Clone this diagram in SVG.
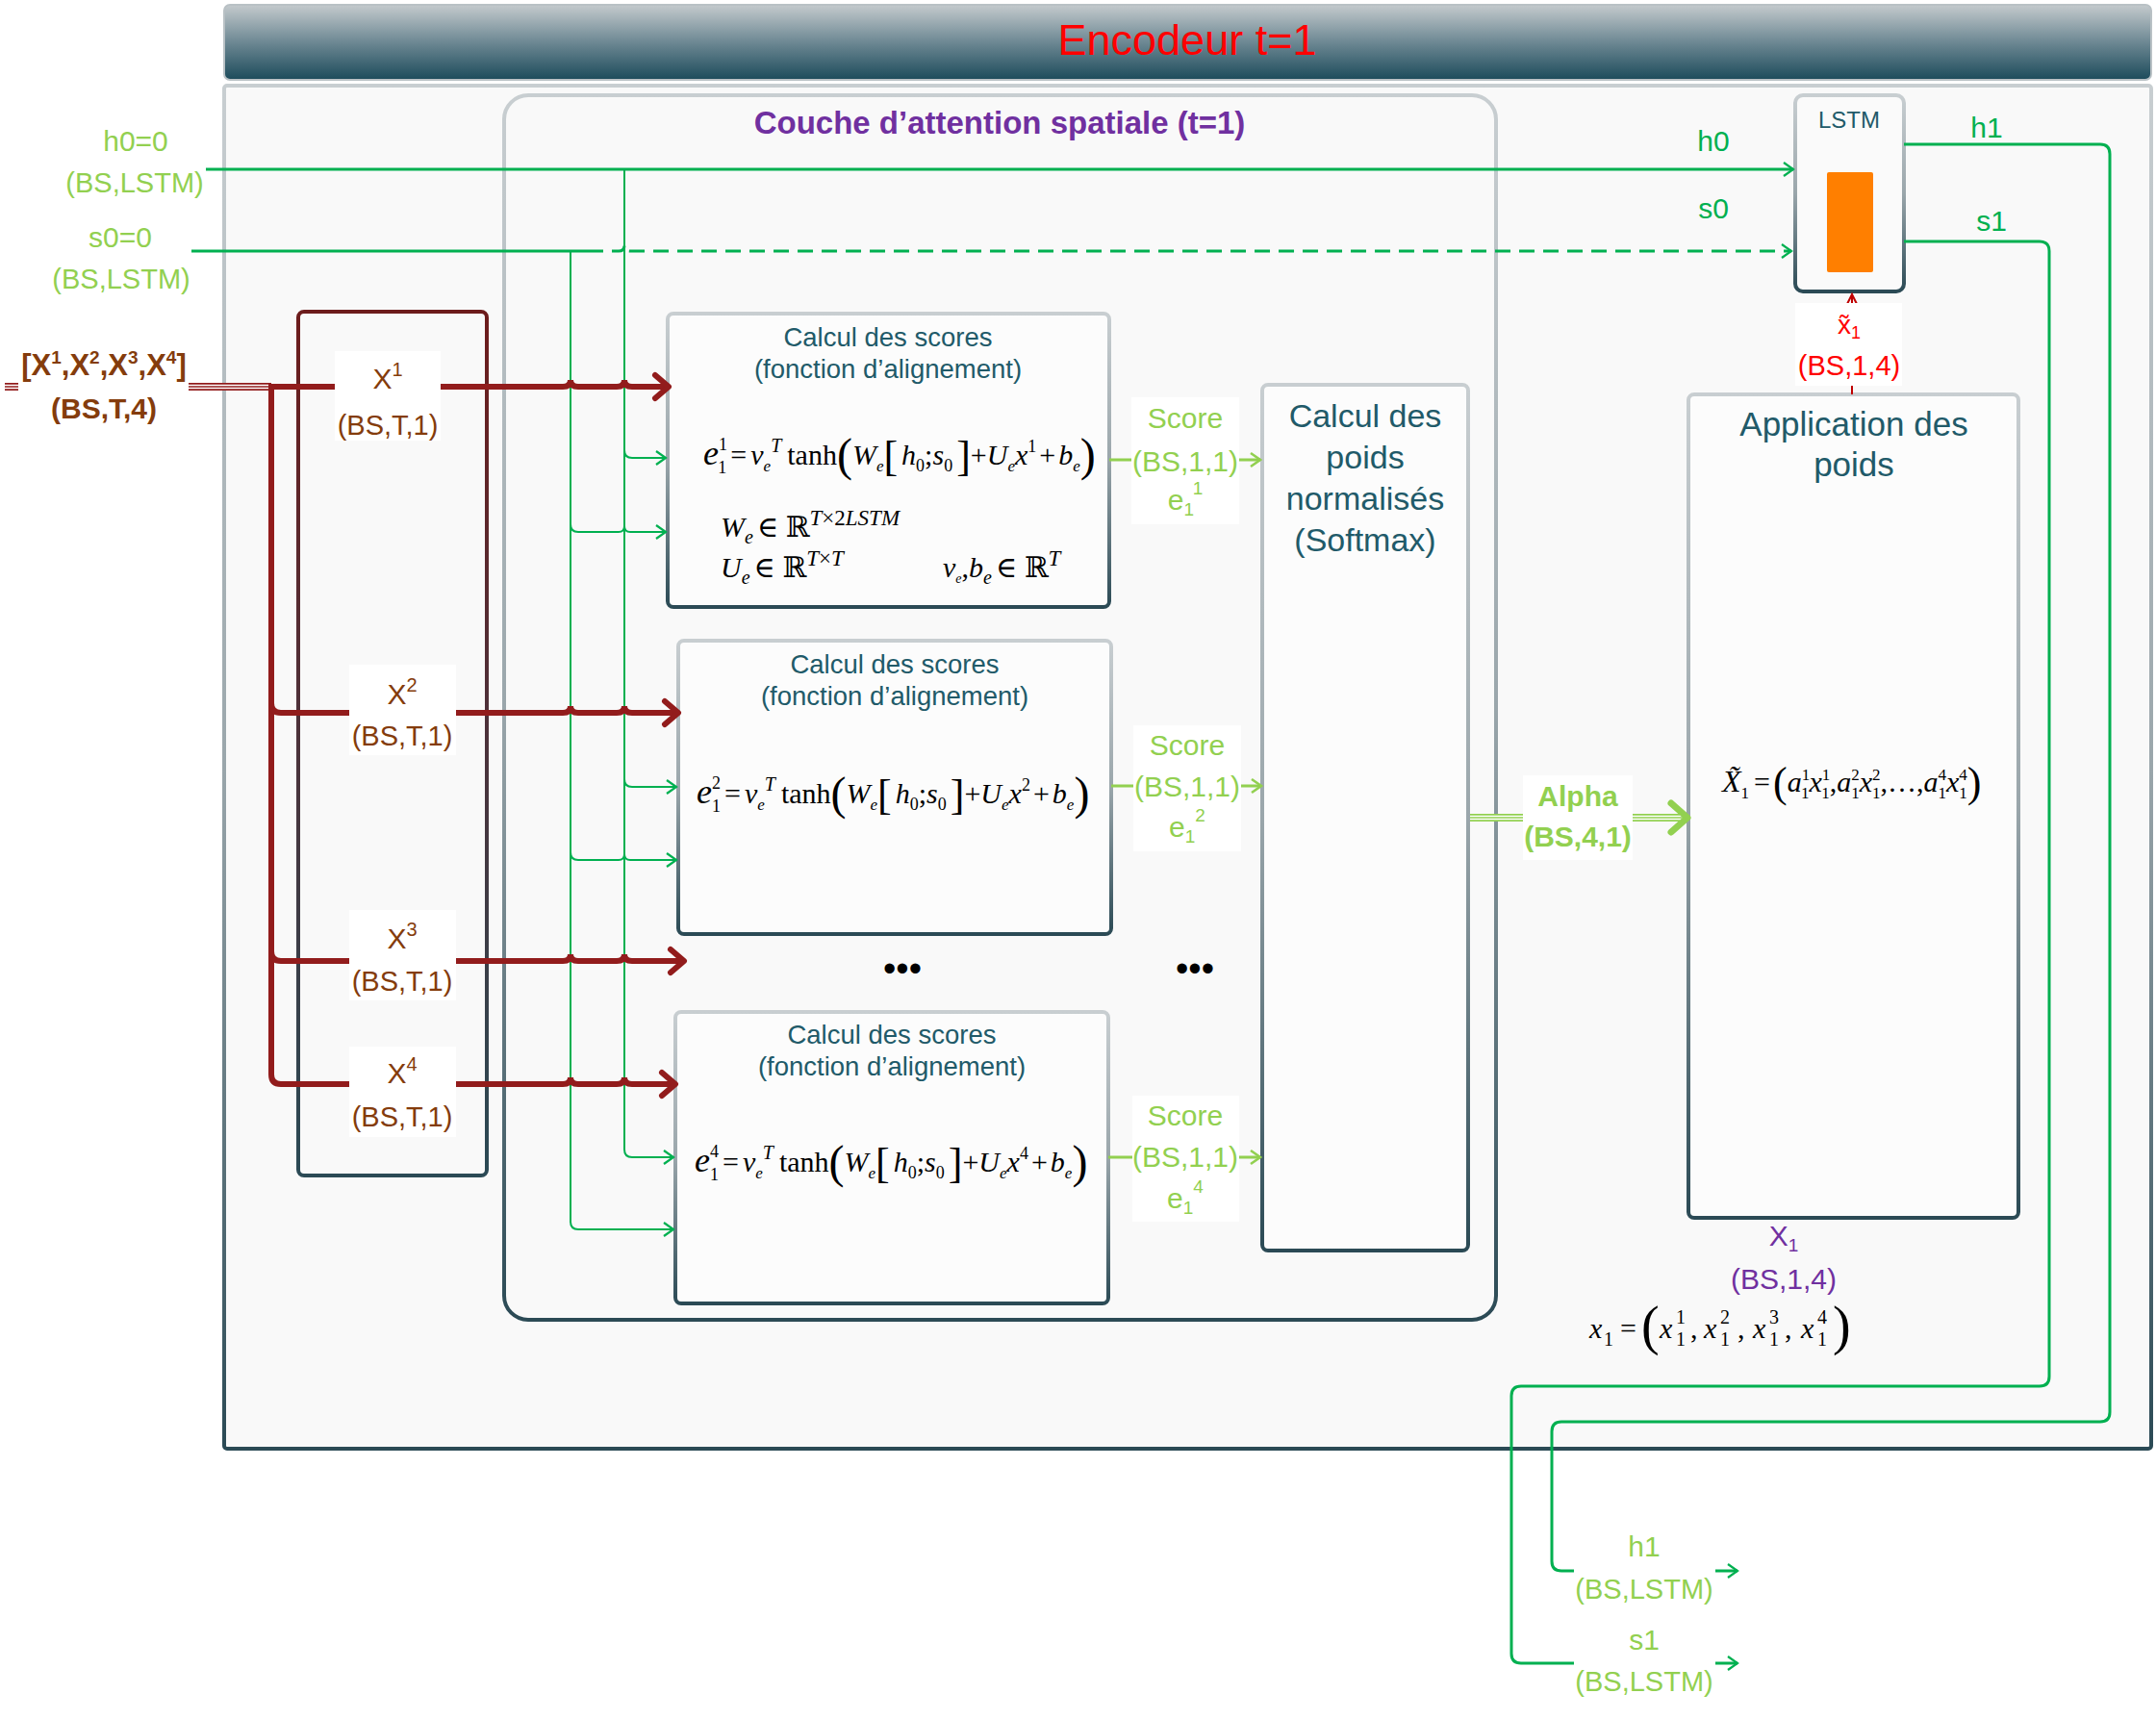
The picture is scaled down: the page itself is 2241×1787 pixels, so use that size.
<svg xmlns="http://www.w3.org/2000/svg" width="2241" height="1787" viewBox="0 0 2241 1787">
<defs>
<style>
text{font-family:"Liberation Sans",Arial,sans-serif}
.math{font-family:"Liberation Serif","DejaVu Serif",serif;font-size:30px;fill:#000}
.it{font-style:italic}
.teal{fill:#215a69}
.lg{fill:#92d050}
.dg{fill:#00b050}
.br{fill:#843c0c}
.box{fill:#fcfcfc;stroke:url(#edge);stroke-width:4}
.gl{fill:none;stroke:#00b050;stroke-width:3}
.gt{fill:none;stroke:#00b050;stroke-width:2}
.bl{fill:none;stroke:#921c1c;stroke-width:6}
.sl{fill:none;stroke:#92d050;stroke-width:3}
.bg{fill:#ffffff}
</style>
<linearGradient id="hdr" x1="0" y1="0" x2="0" y2="1">
<stop offset="0" stop-color="#c4cacd"/><stop offset="0.5" stop-color="#6d8893"/><stop offset="1" stop-color="#1c4b5b"/>
</linearGradient>
<linearGradient id="edge" x1="0" y1="0" x2="0" y2="1">
<stop offset="0" stop-color="#c8ced1"/><stop offset="0.5" stop-color="#9aa6ab"/><stop offset="1" stop-color="#2b4a55"/>
</linearGradient>
<linearGradient id="edgeRed" x1="0" y1="0" x2="0" y2="1">
<stop offset="0" stop-color="#6d1c1c"/><stop offset="0.45" stop-color="#4f3038"/><stop offset="1" stop-color="#2b4a55"/>
</linearGradient>
<marker id="aBrown" viewBox="0 0 20 30" refX="17" refY="15" markerWidth="20" markerHeight="30" orient="auto" markerUnits="userSpaceOnUse" overflow="visible">
<path d="M3,3 L17,15 L3,27" fill="none" stroke="#921c1c" stroke-width="6" stroke-linecap="round" stroke-linejoin="round"/>
</marker>
<marker id="aGreen" viewBox="0 0 12 16" refX="11" refY="8" markerWidth="12" markerHeight="16" orient="auto" markerUnits="userSpaceOnUse" overflow="visible">
<path d="M1,1 L11,8 L1,15" fill="none" stroke="#00b050" stroke-width="2.2"/>
</marker>
<marker id="aLight" viewBox="0 0 12 16" refX="11" refY="8" markerWidth="12" markerHeight="16" orient="auto" markerUnits="userSpaceOnUse" overflow="visible">
<path d="M1,1 L11,8 L1,15" fill="none" stroke="#92d050" stroke-width="2.6"/>
</marker>
<marker id="aAlpha" viewBox="0 0 24 36" refX="21" refY="18" markerWidth="24" markerHeight="36" orient="auto" markerUnits="userSpaceOnUse" overflow="visible">
<path d="M4,3 L21,18 L4,33" fill="none" stroke="#92d050" stroke-width="7" stroke-linecap="round" stroke-linejoin="round"/>
</marker>
<marker id="aRed" viewBox="0 0 12 12" refX="11" refY="6" markerWidth="12" markerHeight="12" orient="auto" markerUnits="userSpaceOnUse" overflow="visible">
<path d="M1,1 L11,6 L1,11" fill="none" stroke="#c00000" stroke-width="2"/>
</marker>
</defs>
<rect x="0" y="0" width="2241" height="1787" fill="#ffffff"/>

<g id="encoder">
<rect x="233" y="89" width="2003" height="1417" rx="3" fill="#f9f9f9" stroke="url(#edge)" stroke-width="4"/>
<rect x="233" y="5" width="2003" height="78" rx="6" fill="url(#hdr)" stroke="#b9c1c5" stroke-width="2"/>
<text x="1234" y="57" text-anchor="middle" font-size="45" fill="#ff0000">Encodeur t=1</text>
</g>

<g id="attention-layer">
<rect x="524" y="99" width="1031" height="1273" rx="25" fill="none" stroke="url(#edge)" stroke-width="4"/>
<text x="1039" y="139" text-anchor="middle" font-size="33" font-weight="bold" fill="#7030a0">Couche d’attention spatiale (t=1)</text>
</g>

<g id="inputs">
<rect x="310" y="324" width="196" height="898" rx="6" fill="none" stroke="url(#edgeRed)" stroke-width="4"/>
</g>

<g id="score1">
<rect class="box" x="694" y="326" width="459" height="305" rx="6"/>
<text class="teal" x="923" y="360" text-anchor="middle" font-size="27.5">Calcul des scores</text>
<text class="teal" x="923" y="393" text-anchor="middle" font-size="27.5">(fonction d’alignement)</text>
<text class="math" x="731" y="483"><tspan class="it" font-size="36">e</tspan><tspan font-size="18" dy="-15">1</tspan><tspan font-size="18" dx="-9" dy="24">1</tspan><tspan dy="-9" dx="4">=</tspan><tspan class="it" dx="4">v</tspan><tspan class="it" font-size="17" dy="7">e</tspan><tspan class="it" font-size="20" dy="-20">T</tspan><tspan dy="13" dx="6">tanh</tspan><tspan font-size="48" dy="6">(</tspan><tspan class="it" dy="-6">W</tspan><tspan class="it" font-size="17" dy="7">e</tspan><tspan font-size="44" dy="-1">[</tspan><tspan class="it" dy="-6" dx="4">h</tspan><tspan font-size="18" dy="7">0</tspan><tspan dy="-7">;</tspan><tspan class="it">s</tspan><tspan font-size="18" dy="7">0</tspan><tspan font-size="44" dy="-1" dx="4">]</tspan><tspan dy="-6">+</tspan><tspan class="it">U</tspan><tspan class="it" font-size="17" dy="7">e</tspan><tspan class="it" dy="-7">x</tspan><tspan font-size="18" dy="-13">1</tspan><tspan dy="13" dx="3">+</tspan><tspan class="it" dx="3">b</tspan><tspan class="it" font-size="17" dy="7">e</tspan><tspan font-size="48" dy="-1">)</tspan></text>
<text class="math" x="749" y="558"><tspan class="it">W</tspan><tspan class="it" font-size="20" dy="7">e</tspan><tspan dy="-7" dx="4">∈ ℝ</tspan><tspan class="it" font-size="23" dy="-12">T</tspan><tspan font-size="23">×2</tspan><tspan class="it" font-size="23">LSTM</tspan></text>
<text class="math" x="749" y="600"><tspan class="it">U</tspan><tspan class="it" font-size="20" dy="7">e</tspan><tspan dy="-7" dx="4">∈ ℝ</tspan><tspan class="it" font-size="23" dy="-12">T</tspan><tspan font-size="23">×</tspan><tspan class="it" font-size="23">T</tspan></text>
<text class="math" x="980" y="600"><tspan class="it">v</tspan><tspan class="it" font-size="14" dy="6">e</tspan><tspan dy="-6">,</tspan><tspan class="it">b</tspan><tspan class="it" font-size="20" dy="7">e</tspan><tspan dy="-7" dx="4">∈ ℝ</tspan><tspan class="it" font-size="23" dy="-12">T</tspan></text>
</g>

<g id="score2">
<rect class="box" x="705" y="666" width="450" height="305" rx="6"/>
<text class="teal" x="930" y="700" text-anchor="middle" font-size="27.5">Calcul des scores</text>
<text class="teal" x="930" y="733" text-anchor="middle" font-size="27.5">(fonction d’alignement)</text>
<text class="math" x="724" y="835"><tspan class="it" font-size="36">e</tspan><tspan font-size="18" dy="-15">2</tspan><tspan font-size="18" dx="-9" dy="24">1</tspan><tspan dy="-9" dx="4">=</tspan><tspan class="it" dx="4">v</tspan><tspan class="it" font-size="17" dy="7">e</tspan><tspan class="it" font-size="20" dy="-20">T</tspan><tspan dy="13" dx="6">tanh</tspan><tspan font-size="48" dy="6">(</tspan><tspan class="it" dy="-6">W</tspan><tspan class="it" font-size="17" dy="7">e</tspan><tspan font-size="44" dy="-1">[</tspan><tspan class="it" dy="-6" dx="4">h</tspan><tspan font-size="18" dy="7">0</tspan><tspan dy="-7">;</tspan><tspan class="it">s</tspan><tspan font-size="18" dy="7">0</tspan><tspan font-size="44" dy="-1" dx="4">]</tspan><tspan dy="-6">+</tspan><tspan class="it">U</tspan><tspan class="it" font-size="17" dy="7">e</tspan><tspan class="it" dy="-7">x</tspan><tspan font-size="18" dy="-13">2</tspan><tspan dy="13" dx="3">+</tspan><tspan class="it" dx="3">b</tspan><tspan class="it" font-size="17" dy="7">e</tspan><tspan font-size="48" dy="-1">)</tspan></text>
</g>

<g id="score4">
<rect class="box" x="702" y="1052" width="450" height="303" rx="6"/>
<text class="teal" x="927" y="1085" text-anchor="middle" font-size="27.5">Calcul des scores</text>
<text class="teal" x="927" y="1118" text-anchor="middle" font-size="27.5">(fonction d’alignement)</text>
<text class="math" x="722" y="1218"><tspan class="it" font-size="36">e</tspan><tspan font-size="18" dy="-15">4</tspan><tspan font-size="18" dx="-9" dy="24">1</tspan><tspan dy="-9" dx="4">=</tspan><tspan class="it" dx="4">v</tspan><tspan class="it" font-size="17" dy="7">e</tspan><tspan class="it" font-size="20" dy="-20">T</tspan><tspan dy="13" dx="6">tanh</tspan><tspan font-size="48" dy="6">(</tspan><tspan class="it" dy="-6">W</tspan><tspan class="it" font-size="17" dy="7">e</tspan><tspan font-size="44" dy="-1">[</tspan><tspan class="it" dy="-6" dx="4">h</tspan><tspan font-size="18" dy="7">0</tspan><tspan dy="-7">;</tspan><tspan class="it">s</tspan><tspan font-size="18" dy="7">0</tspan><tspan font-size="44" dy="-1" dx="4">]</tspan><tspan dy="-6">+</tspan><tspan class="it">U</tspan><tspan class="it" font-size="17" dy="7">e</tspan><tspan class="it" dy="-7">x</tspan><tspan font-size="18" dy="-13">4</tspan><tspan dy="13" dx="3">+</tspan><tspan class="it" dx="3">b</tspan><tspan class="it" font-size="17" dy="7">e</tspan><tspan font-size="48" dy="-1">)</tspan></text>
</g>

<g id="softmax">
<rect class="box" x="1312" y="400" width="214" height="900" rx="6"/>
<text class="teal" x="1419" y="444" text-anchor="middle" font-size="34">Calcul des</text>
<text class="teal" x="1419" y="487" text-anchor="middle" font-size="34">poids</text>
<text class="teal" x="1419" y="530" text-anchor="middle" font-size="34">normalisés</text>
<text class="teal" x="1419" y="573" text-anchor="middle" font-size="34">(Softmax)</text>
</g>

<g id="apply-weights">
<rect class="box" x="1755" y="410" width="343" height="856" rx="6"/>
<text class="teal" x="1927" y="453" text-anchor="middle" font-size="35">Application des</text>
<text class="teal" x="1927" y="495" text-anchor="middle" font-size="35">poids</text>
<text class="math" x="1790" y="823" font-size="28"><tspan class="it" font-size="32">X̃</tspan><tspan font-size="17" dy="7">1</tspan><tspan dy="-7" dx="5">=</tspan><tspan font-size="44" dy="5" dx="3">(</tspan><tspan class="it" dy="-5">a</tspan><tspan font-size="17" dy="-12">1</tspan><tspan font-size="17" dx="-8.5" dy="19">1</tspan><tspan class="it" dy="-7">x</tspan><tspan font-size="17" dy="-12">1</tspan><tspan font-size="17" dx="-8.5" dy="19">1</tspan><tspan dy="-7">,</tspan><tspan class="it">a</tspan><tspan font-size="17" dy="-12">2</tspan><tspan font-size="17" dx="-8.5" dy="19">1</tspan><tspan class="it" dy="-7">x</tspan><tspan font-size="17" dy="-12">2</tspan><tspan font-size="17" dx="-8.5" dy="19">1</tspan><tspan dy="-7">,…,</tspan><tspan class="it">a</tspan><tspan font-size="17" dy="-12">4</tspan><tspan font-size="17" dx="-8.5" dy="19">1</tspan><tspan class="it" dy="-7">x</tspan><tspan font-size="17" dy="-12">4</tspan><tspan font-size="17" dx="-8.5" dy="19">1</tspan><tspan font-size="44" dy="-2">)</tspan></text>
</g>

<g id="lstm">
<rect x="1866" y="99" width="113" height="204" rx="8" fill="#fafafa" stroke="url(#edge)" stroke-width="4"/>
<text class="teal" x="1922" y="133" text-anchor="middle" font-size="24">LSTM</text>
<rect x="1899" y="179" width="48" height="104" rx="2" fill="#ff7f00"/>
</g>

<g id="connectors">
<path class="gl" d="M214,176 H1864" marker-end="url(#aGreen)"/>
<path class="gl" d="M199,261 H611"/>
<path class="gl" d="M611,261 H643 Q649,261 649,255 Q649,261 655,261 H1862" stroke-dasharray="16 9" marker-end="url(#aGreen)"/>
<path class="gt" d="M649,176 V1195 Q649,1203 657,1203 H700" marker-end="url(#aGreen)"/>
<path class="gt" d="M593,261 V1270 Q593,1278 601,1278 H700" marker-end="url(#aGreen)"/>
<path class="gt" d="M649,468 Q649,476 657,476 H692" marker-end="url(#aGreen)"/>
<path class="gt" d="M593,545 Q593,553 601,553 H643 Q649,553 649,547 Q649,553 655,553 H692" marker-end="url(#aGreen)"/>
<path class="gt" d="M649,810 Q649,818 657,818 H703" marker-end="url(#aGreen)"/>
<path class="gt" d="M593,886 Q593,894 601,894 H643 Q649,894 649,888 Q649,894 655,894 H703" marker-end="url(#aGreen)"/>

<path d="M5,402 H282" fill="none" stroke="#921c1c" stroke-width="8"/>
<path d="M5,402 H282" fill="none" stroke="#ffffff" stroke-width="4.6"/>
<path d="M5,402 H282" fill="none" stroke="#921c1c" stroke-width="1.6"/>
<path class="bl" d="M282,399 V1117 Q282,1127 292,1127 H585 Q593,1127 593,1120 Q593,1127 601,1127 H641 Q649,1127 649,1120 Q649,1127 657,1127 H702" marker-end="url(#aBrown)"/>
<path class="bl" d="M282,402 H585 Q593,402 593,395 Q593,402 601,402 H641 Q649,402 649,395 Q649,402 657,402 H695" marker-end="url(#aBrown)"/>
<path class="bl" d="M282,731 Q282,741 292,741 H585 Q593,741 593,734 Q593,741 601,741 H641 Q649,741 649,734 Q649,741 657,741 H705" marker-end="url(#aBrown)"/>
<path class="bl" d="M282,989 Q282,999 292,999 H585 Q593,999 593,992 Q593,999 601,999 H641 Q649,999 649,992 Q649,999 657,999 H711" marker-end="url(#aBrown)"/>

<path class="sl" d="M1153,478 H1310" marker-end="url(#aLight)"/>
<path class="sl" d="M1155,817 H1311" marker-end="url(#aLight)"/>
<path class="sl" d="M1152,1203 H1310" marker-end="url(#aLight)"/>

<path d="M1528,850 H1746" fill="none" stroke="#92d050" stroke-width="8"/>
<path d="M1528,850 H1746" fill="none" stroke="#ffffff" stroke-width="4.6"/>
<path d="M1528,850 H1754" fill="none" stroke="#92d050" stroke-width="1.6" marker-end="url(#aAlpha)"/>

<path d="M1925,410 V306" fill="none" stroke="#c00000" stroke-width="2" marker-end="url(#aRed)"/>

<path class="gl" d="M1979,150 H2183 Q2193,150 2193,160 V1468 Q2193,1478 2183,1478 H1623 Q1613,1478 1613,1488 V1623 Q1613,1633 1623,1633 H1806" marker-end="url(#aGreen)"/>
<path class="gl" d="M1979,251 H2120 Q2130,251 2130,261 V1431 Q2130,1441 2120,1441 H1581 Q1571,1441 1571,1451 V1719 Q1571,1729 1581,1729 H1806" marker-end="url(#aGreen)"/>
</g>

<g id="labels">
<text class="lg" x="141" y="157" text-anchor="middle" font-size="30">h0=0</text>
<text class="lg" x="140" y="200" text-anchor="middle" font-size="29">(BS,LSTM)</text>
<text class="lg" x="125" y="257" text-anchor="middle" font-size="30">s0=0</text>
<text class="lg" x="126" y="300" text-anchor="middle" font-size="29">(BS,LSTM)</text>

<rect class="bg" x="19" y="356" width="177" height="90"/>
<text class="br" x="108" y="390" text-anchor="middle" font-size="31" font-weight="bold">[X<tspan dy="-12" font-size="19">1</tspan><tspan dy="12">,X</tspan><tspan dy="-12" font-size="19">2</tspan><tspan dy="12">,X</tspan><tspan dy="-12" font-size="19">3</tspan><tspan dy="12">,X</tspan><tspan dy="-12" font-size="19">4</tspan><tspan dy="12">]</tspan></text>
<text class="br" x="108" y="435" text-anchor="middle" font-size="30" font-weight="bold">(BS,T,4)</text>

<rect class="bg" x="348" y="365" width="110" height="93"/>
<text class="br" x="403" y="404" text-anchor="middle" font-size="30">X<tspan dy="-13" font-size="20">1</tspan></text>
<text class="br" x="403" y="452" text-anchor="middle" font-size="29">(BS,T,1)</text>
<rect class="bg" x="363" y="691" width="111" height="94"/>
<text class="br" x="418" y="732" text-anchor="middle" font-size="30">X<tspan dy="-13" font-size="20">2</tspan></text>
<text class="br" x="418" y="775" text-anchor="middle" font-size="29">(BS,T,1)</text>
<rect class="bg" x="363" y="946" width="111" height="94"/>
<text class="br" x="418" y="986" text-anchor="middle" font-size="30">X<tspan dy="-13" font-size="20">3</tspan></text>
<text class="br" x="418" y="1030" text-anchor="middle" font-size="29">(BS,T,1)</text>
<rect class="bg" x="363" y="1088" width="111" height="94"/>
<text class="br" x="418" y="1126" text-anchor="middle" font-size="30">X<tspan dy="-13" font-size="20">4</tspan></text>
<text class="br" x="418" y="1171" text-anchor="middle" font-size="29">(BS,T,1)</text>

<rect class="bg" x="1176" y="413" width="112" height="132"/>
<text class="lg" x="1232" y="445" text-anchor="middle" font-size="30">Score</text>
<text class="lg" x="1232" y="490" text-anchor="middle" font-size="30">(BS,1,1)</text>
<text class="lg" x="1232" y="530" text-anchor="middle" font-size="30">e<tspan font-size="19" dy="6">1</tspan><tspan font-size="19" dy="-22">1</tspan></text>
<rect class="bg" x="1178" y="754" width="112" height="131"/>
<text class="lg" x="1234" y="785" text-anchor="middle" font-size="30">Score</text>
<text class="lg" x="1234" y="828" text-anchor="middle" font-size="30">(BS,1,1)</text>
<text class="lg" x="1234" y="870" text-anchor="middle" font-size="30">e<tspan font-size="19" dy="6">1</tspan><tspan font-size="19" dy="-22">2</tspan></text>
<rect class="bg" x="1177" y="1139" width="111" height="131"/>
<text class="lg" x="1232" y="1170" text-anchor="middle" font-size="30">Score</text>
<text class="lg" x="1232" y="1213" text-anchor="middle" font-size="30">(BS,1,1)</text>
<text class="lg" x="1232" y="1256" text-anchor="middle" font-size="30">e<tspan font-size="19" dy="6">1</tspan><tspan font-size="19" dy="-22">4</tspan></text>

<text x="938" y="1020" text-anchor="middle" font-size="38" fill="#000">•••</text>
<text x="1242" y="1020" text-anchor="middle" font-size="38" fill="#000">•••</text>

<rect class="bg" x="1583" y="806" width="114" height="88"/>
<text class="lg" x="1640" y="838" text-anchor="middle" font-size="30" font-weight="bold">Alpha</text>
<text class="lg" x="1640" y="880" text-anchor="middle" font-size="30" font-weight="bold">(BS,4,1)</text>

<rect class="bg" x="1866" y="315" width="111" height="86"/>
<text x="1922" y="347" text-anchor="middle" font-size="28" fill="#ff0000">x̃<tspan font-size="18" dy="5">1</tspan></text>
<text x="1922" y="390" text-anchor="middle" font-size="29" fill="#ff0000">(BS,1,4)</text>

<text class="dg" x="1781" y="157" text-anchor="middle" font-size="30">h0</text>
<text class="dg" x="1781" y="227" text-anchor="middle" font-size="30">s0</text>
<text class="dg" x="2065" y="143" text-anchor="middle" font-size="30">h1</text>
<text class="dg" x="2070" y="240" text-anchor="middle" font-size="30">s1</text>

<text x="1854" y="1295" text-anchor="middle" font-size="30" fill="#7030a0">X<tspan font-size="19" dy="6">1</tspan></text>
<text x="1854" y="1340" text-anchor="middle" font-size="30" fill="#7030a0">(BS,1,4)</text>
<text class="math" y="1391" font-size="34"><tspan class="it" x="1652">x</tspan><tspan font-size="20" x="1667" dy="8">1</tspan><tspan x="1684" dy="-8">=</tspan><tspan font-size="56" x="1706" dy="6">(</tspan><tspan class="it" x="1725" dy="-6">x</tspan><tspan font-size="20" x="1742" dy="-15">1</tspan><tspan font-size="20" x="1742" dy="23">1</tspan><tspan x="1757" dy="-8">,</tspan><tspan class="it" x="1771">x</tspan><tspan font-size="20" x="1788" dy="-15">2</tspan><tspan font-size="20" x="1788" dy="23">1</tspan><tspan x="1806" dy="-8">,</tspan><tspan class="it" x="1822">x</tspan><tspan font-size="20" x="1839" dy="-15">3</tspan><tspan font-size="20" x="1839" dy="23">1</tspan><tspan x="1855" dy="-8">,</tspan><tspan class="it" x="1872">x</tspan><tspan font-size="20" x="1889" dy="-15">4</tspan><tspan font-size="20" x="1889" dy="23">1</tspan><tspan font-size="56" x="1905" dy="-2">)</tspan></text>

<rect class="bg" x="1636" y="1590" width="147" height="84"/>
<text class="lg" x="1709" y="1618" text-anchor="middle" font-size="30">h1</text>
<text class="lg" x="1709" y="1662" text-anchor="middle" font-size="29">(BS,LSTM)</text>
<rect class="bg" x="1636" y="1688" width="147" height="82"/>
<text class="lg" x="1709" y="1715" text-anchor="middle" font-size="30">s1</text>
<text class="lg" x="1709" y="1758" text-anchor="middle" font-size="29">(BS,LSTM)</text>
</g>
</svg>
